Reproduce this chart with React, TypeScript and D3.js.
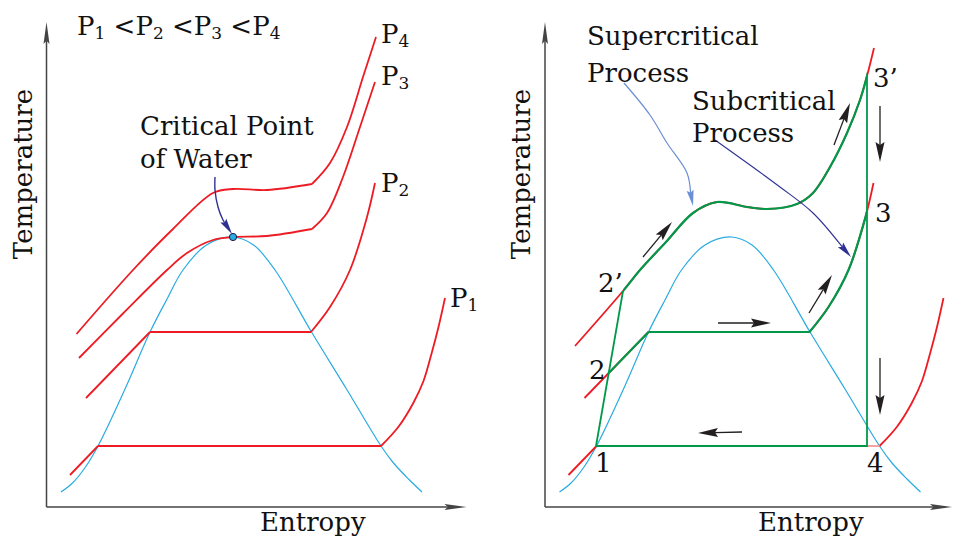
import React from "react";
import * as d3 from "d3";

type Pt = [number, number];

// Abstract entropy (s) / temperature (t) coordinates, origin at the axes corner
const DOME: Pt[] = [[14.5,15],[26,24],[39,40],[51.5,61],[78.5,118],[103.5,175],[120,207],[136.5,237],[160,262],[186.5,270],[207,262],[228.5,237],[265,175],[300,118],[334.5,61],[347,44],[362,28],[375.5,15]];

const P1: Pt[][] = [
  [[23.5,32],[51.5,61]],
  [[51.5,61],[334.5,61]],
  [[334.5,61],[351.8,80],[366.8,104],[377,126],[385.2,154],[392,180],[398.5,209]],
];
const P2: Pt[][] = [
  [[39.5,109],[103.5,175]],
  [[103.5,175],[264.5,175]],
  [[264.5,175],[283.5,200],[303.5,237],[320.5,290],[328.5,324]],
];
const P3: Pt[][] = [
  [[32.5,149],[76,193],[120.5,237],[140.5,254],[166.5,267],[186.5,270],[220.5,271],[265.5,278]],
  [[265.5,278],[280.5,294],[296.5,330],[313.5,380],[328.5,425]],
];
const P4: Pt[][] = [
  [[30,173],[86.5,237],[126.5,278],[166.5,314],[186.5,318],[220.5,317],[265.5,323]],
  [[265.5,323],[283.5,344],[300.5,380],[316.5,430],[329.5,470]],
];
const SUPER: Pt[][] = [
  [[30,161],[78,216],[95,237],[121,265],[148,294],[172,305],[202,300],[222,298],[252,303],[268,314],[285,340],[302,374],[315,407],[322,431],[329,459]],
];
const CRIT: Pt = [186.5, 270];
const CRIT_ANNOT: Pt[] = [[168.5,330],[168.5,317],[171.5,300],[176.5,287],[185.5,273]];

// cycle state points (right panel)
const ST1: Pt = [51, 61];
const ST2: Pt = [63.2, 131];
const ST2P: Pt = [78, 216];
const ST3: Pt = [322, 297];
const ST3P: Pt = [322, 431];
const ST4: Pt = [322, 61];
const DOME_R: Pt = [334.5, 61];

const FLOW_ARROWS: [Pt, Pt][] = [
  [[98,250],[127,285]],
  [[289,362],[305,404]],
  [[335,401],[335,345]],
  [[173,184],[226,184]],
  [[264,194],[287,232]],
  [[335,149],[335,92]],
  [[197,75],[153,74]],
];
const SUPER_ANNOT: Pt[] = [[79,424],[105,392],[122,364],[142,334],[148,301]];
const SUB_ANNOT: Pt[] = [[170,367],[235,320],[268,294],[306,250]];

const PLABELS = [
  { n: "4", s: 334.5, t: 464 },
  { n: "3", s: 334.5, t: 422 },
  { n: "2", s: 334.5, t: 315 },
  { n: "1", s: 403.5, t: 200 },
];
const STATE_LABELS = [
  { txt: "3’", s: 328, t: 420 },
  { txt: "3", s: 330, t: 285 },
  { txt: "2’", s: 53, t: 215 },
  { txt: "2", s: 44, t: 128 },
  { txt: "1", s: 50, t: 35 },
  { txt: "4", s: 322, t: 35 },
];

const RED = "#ed1c24";
const CYAN = "#29abe2";
const GREEN = "#00994a";
const NAVY = "#2e3192";
const LBLUE = "#6b8fd4";
const INK = "#231f20";
const AXIS = "#444";
const FONT = "DejaVu Serif";
const FS = 26;

function makeScales(ox: number, xmax: number) {
  const x = d3.scaleLinear().domain([0, xmax]).range([ox, ox + xmax]);
  const y = d3.scaleLinear().domain([0, 485]).range([507, 22]);
  return { x, y };
}

function piecesPath(pieces: Pt[][], x: any, y: any) {
  return pieces
    .map((p) =>
      (d3.line<Pt>().x((d) => x(d[0])).y((d) => y(d[1])).curve(p.length > 2 ? d3.curveCatmullRom.alpha(0.5) : d3.curveLinear))(p) || ""
    )
    .join("");
}

function head(p0: Pt, p1: Pt, L: number, W: number) {
  const dx = p1[0] - p0[0], dy = p1[1] - p0[1];
  const len = Math.hypot(dx, dy);
  const ux = dx / len, uy = dy / len;
  const bx = p1[0] - ux * L, by = p1[1] - uy * L;
  const px = -uy * W / 2, py = ux * W / 2;
  const nx = p1[0] - ux * L * 0.85, ny = p1[1] - uy * L * 0.85;
  return { d: `M${p1[0]},${p1[1]}L${bx + px},${by + py}L${nx},${ny}L${bx - px},${by - py}Z`, base: [nx, ny] as Pt };
}

function Arrow({ a, b, color, w = 1.3, L = 18, W = 8 }: { a: Pt; b: Pt; color: string; w?: number; L?: number; W?: number }) {
  const h = head(a, b, L, W);
  return (
    <g>
      <line x1={a[0]} y1={a[1]} x2={h.base[0]} y2={h.base[1]} stroke={color} strokeWidth={w} />
      <path d={h.d} fill={color} />
    </g>
  );
}

function Axes({ x, y, xmax }: { x: any; y: any; xmax: number }) {
  const o: Pt = [x(0), y(0)];
  const top: Pt = [x(0), y(485)];
  const right: Pt = [x(xmax), y(0)];
  return (
    <g>
      <Arrow a={o} b={top} color={AXIS} w={1.5} L={22} W={6} />
      <Arrow a={o} b={right} color={AXIS} w={1.5} L={22} W={6} />
    </g>
  );
}

function AnnotCurve({ pts, x, y, color, w }: { pts: Pt[]; x: any; y: any; color: string; w: number }) {
  const px: Pt[] = pts.map((d) => [x(d[0]), y(d[1])]);
  const n = px.length;
  const h = head(px[n - 2], px[n - 1], 16, 7);
  const trimmed = px.slice(0, n - 1).concat([h.base]);
  const d = d3.line<Pt>().curve(d3.curveCatmullRom.alpha(0.5))(trimmed) || "";
  return (
    <g>
      <path d={d} fill="none" stroke={color} strokeWidth={w} />
      <path d={h.d} fill={color} />
    </g>
  );
}

export default function App() {
  const L = makeScales(46.5, 420);
  const R = makeScales(545, 407);
  const lineR = (pts: Pt[]) => d3.line<Pt>().x((d) => R.x(d[0])).y((d) => R.y(d[1]))(pts) || "";
  const domeL = d3.line<Pt>().x((d) => L.x(d[0])).y((d) => L.y(d[1])).curve(d3.curveCatmullRom.alpha(0.5))(DOME) || "";
  const domeR = d3.line<Pt>().x((d) => R.x(d[0])).y((d) => R.y(d[1])).curve(d3.curveCatmullRom.alpha(0.5))(DOME) || "";
  const subStyle = { fontSize: 17 };

  return (
    <svg width={953} height={541} style={{ position: "absolute", left: 0, top: 0, background: "#fff" }} fontFamily={FONT} fontSize={FS} fill="#111">
      <defs>
        <clipPath id="clipP2">
          <rect x={R.x(ST2[0])} y={0} width={R.x(ST3[0]) - R.x(ST2[0])} height={541} />
        </clipPath>
        <clipPath id="clipSup">
          <rect x={R.x(ST2P[0])} y={0} width={R.x(ST3P[0]) - R.x(ST2P[0])} height={541} />
        </clipPath>
      </defs>

      {/* LEFT PANEL */}
      <Axes x={L.x} y={L.y} xmax={420} />
      <path d={domeL} fill="none" stroke={CYAN} strokeWidth={1.2} />
      {[P1, P2, P3, P4].map((c, i) => (
        <path key={i} d={piecesPath(c, L.x, L.y)} fill="none" stroke={RED} strokeWidth={1.8} />
      ))}
      <AnnotCurve pts={CRIT_ANNOT} x={L.x} y={L.y} color={NAVY} w={1.4} />
      <circle cx={L.x(CRIT[0])} cy={L.y(CRIT[1])} r={3.6} fill={CYAN} stroke="#1a1a4a" strokeWidth={1} />

      <text x={77} y={35}>
        P<tspan dy={4} style={subStyle}>1</tspan><tspan dy={-4}> &lt;P</tspan><tspan dy={4} style={subStyle}>2</tspan><tspan dy={-4}> &lt;P</tspan><tspan dy={4} style={subStyle}>3</tspan><tspan dy={-4}> &lt;P</tspan><tspan dy={4} style={subStyle}>4</tspan>
      </text>
      <text x={140} y={135}>Critical Point</text>
      <text x={140} y={168}>of Water</text>
      {PLABELS.map((p) => (
        <text key={p.n} x={L.x(p.s)} y={L.y(p.t)}>
          P<tspan dy={4} style={subStyle}>{p.n}</tspan>
        </text>
      ))}
      <text transform="translate(32,174) rotate(-90)" textAnchor="middle">Temperature</text>
      <text x={260} y={531}>Entropy</text>

      {/* RIGHT PANEL */}
      <Axes x={R.x} y={R.y} xmax={407} />
      <path d={domeR} fill="none" stroke={CYAN} strokeWidth={1.2} />
      {[P1, P2, SUPER].map((c, i) => (
        <path key={i} d={piecesPath(c, R.x, R.y)} fill="none" stroke={RED} strokeWidth={1.8} />
      ))}
      <path d={lineR([ST4, DOME_R])} stroke="#f5a3a3" strokeWidth={2} fill="none" />
      <g fill="none" stroke={GREEN} strokeWidth={2.2}>
        <path d={piecesPath(P2, R.x, R.y)} clipPath="url(#clipP2)" />
        <path d={piecesPath(SUPER, R.x, R.y)} clipPath="url(#clipSup)" />
        <path d={lineR([ST1, ST2P])} strokeWidth={1.8} />
        <path d={lineR([ST3P, ST4, ST1])} strokeWidth={1.8} />
      </g>
      {FLOW_ARROWS.map((a, i) => (
        <Arrow key={i} a={[R.x(a[0][0]), R.y(a[0][1])]} b={[R.x(a[1][0]), R.y(a[1][1])]} color={INK} w={1.3} L={20} W={9} />
      ))}
      <AnnotCurve pts={SUPER_ANNOT} x={R.x} y={R.y} color={LBLUE} w={1.2} />
      <AnnotCurve pts={SUB_ANNOT} x={R.x} y={R.y} color={NAVY} w={1.1} />

      <text x={587} y={45}>Supercritical</text>
      <text x={587} y={82}>Process</text>
      <text x={692} y={110}>Subcritical</text>
      <text x={692} y={142}>Process</text>
      {STATE_LABELS.map((l, i) => (
        <text key={i} x={R.x(l.s)} y={R.y(l.t)}>{l.txt}</text>
      ))}
      <text transform="translate(530,174) rotate(-90)" textAnchor="middle">Temperature</text>
      <text x={758} y={531}>Entropy</text>
    </svg>
  );
}
